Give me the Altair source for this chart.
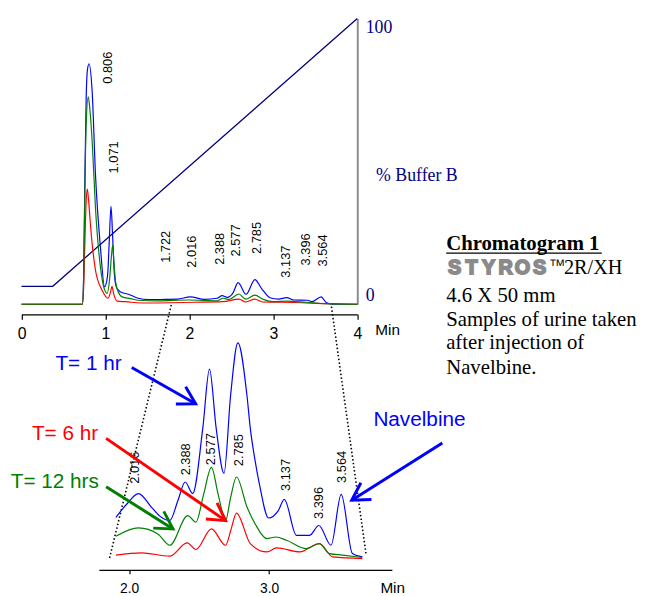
import math
import altair as alt
import pandas as pd

# ---------------- values ----------------
# Overview chromatogram: (time in min, response in % of panel height)
top_blue = [(0.0, 0.0), (0.725, 0.0), (0.74, 10.0), (0.755, 45.0), (0.77, 72.0), (0.785, 82.0),
            (0.804, 84.2), (0.842, 74.1), (0.881, 45.4), (0.94, 19.9), (0.99, 6.1), (1.025, 10.0),
            (1.045, 22.0), (1.066, 34.3), (1.085, 24.0), (1.106, 10.7), (1.13, 6.0), (1.176, 4.4),
            (1.275, 3.5), (1.39, 2.1), (1.51, 1.6), (1.71, 1.7), (1.86, 1.8), (2.01, 2.6), (2.18, 1.7),
            (2.33, 2.1), (2.39, 3.0), (2.45, 2.4), (2.52, 4.0), (2.58, 7.6), (2.675, 3.5), (2.78, 8.6),
            (2.86, 5.5), (2.96, 2.3), (3.06, 1.8), (3.16, 2.3), (3.24, 1.5), (3.41, 1.4), (3.46, 0.9),
            (3.57, 2.6), (3.63, 0.6), (3.71, 0.0), (4.0, 0.0)]
top_green = [(0.0, 0.0), (0.725, 0.0), (0.74, 9.0), (0.755, 40.0), (0.77, 63.0), (0.795, 72.6),
             (0.815, 68.0), (0.842, 56.8), (0.881, 33.7), (0.94, 13.0), (0.98, 6.0), (1.02, 3.8),
             (1.05, 9.0), (1.07, 16.5), (1.086, 20.8), (1.1, 15.0), (1.12, 8.0), (1.15, 4.5), (1.2, 2.6),
             (1.3, 2.0), (1.39, 1.4), (1.62, 1.2), (2.0, 1.5), (2.33, 1.2), (2.4, 2.1), (2.47, 1.7),
             (2.59, 3.6), (2.67, 1.8), (2.78, 3.2), (2.88, 1.7), (3.0, 0.9), (3.16, 1.1), (3.39, 0.7),
             (3.7, 0.1), (4.0, 0.0)]
top_red = [(0.0, 0.0), (0.725, 0.0), (0.74, 6.0), (0.755, 22.0), (0.77, 36.0), (0.784, 40.3),
           (0.80, 36.0), (0.824, 26.8), (0.881, 11.9), (0.96, 4.9), (1.03, 2.1), (1.06, 4.2),
           (1.078, 6.3), (1.095, 4.0), (1.14, 1.1), (1.24, 0.9), (1.43, 0.45), (2.05, 0.7), (2.4, 0.9),
           (2.59, 1.8), (2.67, 0.8), (2.78, 1.8), (2.87, 0.8), (3.1, 0.7), (3.7, 0.2), (4.0, 0.0)]
buffer_b = [(0.0, 6.3), (0.372, 6.3), (4.0, 100.0)]          # % Buffer B gradient

top_peak_names = ["0.806", "1.071", "1.722", "2.016", "2.388", "2.577", "2.785", "3.137", "3.396", "3.564"]
top_peak_t = [1.027, 1.098, 1.725, 2.031, 2.36, 2.556, 2.804, 3.157, 3.392, 3.588]
top_peak_v = [77.2, 45.8, 14.5, 12.8, 13.8, 16.7, 17.6, 9.3, 13.6, 13.2]

# Expanded view (1.9 - 3.7 min)
bot_blue = [(1.905, 22.2), (1.983, 27.8), (2.066, 32.2), (2.16, 26.4), (2.23, 22.2), (2.29, 20.8),
            (2.348, 29.2), (2.40, 37.1), (2.454, 32.2), (2.526, 59.7), (2.574, 84.7), (2.622, 59.7),
            (2.678, 40.7), (2.725, 73.6), (2.777, 95.8), (2.842, 73.6), (2.866, 59.7), (2.901, 45.8),
            (2.936, 34.7), (2.996, 21.9), (3.066, 25.0), (3.109, 29.8), (3.196, 14.6), (3.29, 14.6),
            (3.356, 18.75), (3.443, 10.4), (3.516, 31.9), (3.596, 6.9), (3.667, 5.5)]
bot_green = [(1.905, 14.2), (2.066, 17.75), (2.207, 15.1), (2.29, 10.4), (2.419, 22.9), (2.477, 20.1),
             (2.532, 31.9), (2.588, 43.3), (2.636, 31.9), (2.689, 20.8), (2.725, 30.5), (2.767, 39.2),
             (2.843, 26.4), (2.901, 19.4), (2.984, 13.2), (3.049, 13.9), (3.125, 12.5), (3.266, 9.0),
             (3.36, 11.1), (3.431, 6.9), (3.525, 6.25), (3.667, 5.25)]
bot_red = [(1.905, 6.25), (2.089, 7.2), (2.29, 5.8), (2.414, 11.4), (2.477, 8.6), (2.588, 17.3),
           (2.689, 10.4), (2.728, 17.0), (2.767, 24.0), (2.866, 11.1), (2.984, 7.6), (3.054, 9.3),
           (3.219, 7.6), (3.36, 11.1), (3.455, 5.5), (3.667, 4.8)]

bot_peak_names = ["2.016", "2.388", "2.577", "2.785", "3.137", "3.396", "3.564"]
bot_peak_t = [2.042, 2.403, 2.588, 2.784, 3.12, 3.36, 3.52]
bot_peak_v = [36.4, 39.9, 44.2, 43.75, 33.3, 21.5, 36.7]

sample_labels = ["T= 1 hr", "T= 6 hr", "T= 12 hrs"]
sample_colors = ["#0000ff", "#ff0000", "#008000"]
sample_t = [1.946, 1.778, 1.783]
sample_v = [86.8, 57.2, 37.2]

arrow_colors = ["#0000ff", "#ff0000", "#008000", "#0000ff"]
arrow_tail_t = [2.018, 1.835, 1.835, 4.239]
arrow_tail_v = [85.4, 55.5, 35.1, 53.5]
arrow_head_t = [2.475, 2.689, 2.313, 3.591]
arrow_head_v = [70.1, 20.8, 17.3, 29.4]

info_lines = ["4.6 X 50 mm", "Samples of urine taken", "after injection of", "Navelbine."]
styros_letters = list("STYROS")

# ---------------- layout / style ----------------
W, H = 641, 588
SANS, SERIF = "Liberation Sans", "Liberation Serif"
NAVY = "#000080"


def sc(domain, rng):
    return alt.Scale(domain=domain, range=rng, nice=False, zero=False)


TOP_X = sc([0, 4], [13.7, 353.7])
TOP_Y = sc([0, 100], [296.3, 7])
BOT_X = sc([1.783, 3.878], [92, 388.7])
BOT_Y = sc([0, 100], [565.3, 325.3])

AX_TOP_X = alt.Axis(orient="bottom", offset=306.5 - H, values=[0, 1, 2, 3, 4], format="d",
                    title=None, grid=False, domainColor="black", domainWidth=1.2,
                    tickColor="black", tickWidth=1.2, tickSize=5, labelFont=SANS,
                    labelFontSize=16, labelColor="black", labelPadding=6,
                    labelFlush=False, labelOverlap=False)
AX_TOP_Y = alt.Axis(orient="right", offset=353.7 - W, values=[0, 100], title=None, grid=False,
                    ticks=False, domainColor="#8c8c8c", domainWidth=2, labelFont=SERIF,
                    labelFontSize=18, labelColor=NAVY, labelPadding=8, labelFlush=True,
                    labelOverlap=False)
AX_BOT_X = alt.Axis(orient="bottom", offset=565.3 - H, values=[2.0, 3.0], format=".1f",
                    title=None, grid=False, domainColor="black", domainWidth=1.2,
                    tickColor="black", tickWidth=1.2, tickSize=4, labelFont=SANS,
                    labelFontSize=14, labelColor="black", labelPadding=8,
                    labelFlush=False, labelOverlap=False)


def tx(f="t"):
    return alt.X(f"{f}:Q", scale=TOP_X, axis=AX_TOP_X)


def ty(f="v"):
    return alt.Y(f"{f}:Q", scale=TOP_Y, axis=AX_TOP_Y)


def bx(f="t"):
    return alt.X(f"{f}:Q", scale=BOT_X, axis=AX_BOT_X)


def by(f="v"):
    return alt.Y(f"{f}:Q", scale=BOT_Y, axis=None)


def series(pairs, color):
    return pd.DataFrame({"t": [p[0] for p in pairs], "v": [p[1] for p in pairs], "c": color})


# ---------------- top (overview) group ----------------
top_lines = pd.concat([series(top_blue, "#0000ff"), series(top_red, "#ff0000"),
                       series(top_green, "#008000")])
top_lines["k"] = top_lines["c"].map({"#0000ff": 0, "#ff0000": 1, "#008000": 2})

dotted = pd.DataFrame({"t": [1.784, 3.686], "v": [-0.24, 0.45],
                       "t2": [1.044, 4.106], "v2": [-89.4, -87.8]})

l_dotted = alt.Chart(dotted).mark_rule(color="black", strokeWidth=1.6, strokeDash=[1.5, 2.3]).encode(
    x=tx(), y=ty(), x2="t2:Q", y2="v2:Q")

l_buffer = alt.Chart(series(buffer_b, NAVY)).mark_line(color=NAVY, strokeWidth=1.3).encode(
    x=tx(), y=ty())

l_top = alt.Chart(top_lines).mark_line(interpolate="monotone", strokeWidth=1.2).encode(
    x=tx(), y=ty(), color=alt.Color("c:N", scale=None), detail="k:N", order="t:Q")

l_top_lab = alt.Chart(pd.DataFrame({"t": top_peak_t, "v": top_peak_v, "s": top_peak_names})).mark_text(
    angle=270, align="left", baseline="middle", font=SANS, fontSize=13, color="black").encode(
    x=tx(), y=ty(), text="s:N")

l_min_top = alt.Chart(pd.DataFrame({"t": [4.215], "v": [-8.9], "s": ["Min"]})).mark_text(
    align="left", baseline="middle", font=SANS, fontSize=15.5, color="black").encode(
    x=tx(), y=ty(), text="s:N")

l_buf_title = alt.Chart(pd.DataFrame({"t": [4.224], "v": [43.1], "s": ["% Buffer B"]})).mark_text(
    align="left", baseline="alphabetic", font=SERIF, fontSize=18, color=NAVY).encode(
    x=tx(), y=ty(), text="s:N")

l_chrom = alt.Chart(pd.DataFrame({"t": [5.059], "v": [19.12], "s": ["Chromatogram 1"]})).mark_text(
    align="left", baseline="alphabetic", font=SERIF, fontSize=21, fontWeight="bold",
    color="black").encode(x=tx(), y=ty(), text="s:N")

l_underline = alt.Chart(pd.DataFrame({"t": [5.059], "t2": [6.913], "v": [17.9]})).mark_rule(
    color="black", strokeWidth=1.5).encode(x=tx(), x2="t2:Q", y=ty())

l_styros = alt.Chart(pd.DataFrame({"t": [5.160, 5.362, 5.564, 5.767, 5.969, 6.172],
                                   "v": [10.58] * 6, "s": styros_letters})).mark_text(
    align="center", baseline="alphabetic", font=SANS, fontSize=20, fontWeight="bold",
    color="#8a8a8a", stroke="#8a8a8a", strokeWidth=1.8).encode(x=tx(), y=ty(), text="s:N")

l_tm = alt.Chart(pd.DataFrame({"t": [6.28], "v": [11.6], "s": ["™"]})).mark_text(
    align="left", baseline="alphabetic", font=SANS, fontSize=17, color="#222222").encode(
    x=tx(), y=ty(), text="s:N")

l_model = alt.Chart(pd.DataFrame({"t": [6.462], "v": [10.58], "s": ["2R/XH"]})).mark_text(
    align="left", baseline="alphabetic", font=SERIF, fontSize=20.5, color="black").encode(
    x=tx(), y=ty(), text="s:N")

l_info = alt.Chart(pd.DataFrame({"t": [5.059] * 4, "v": [0.9, -7.53, -15.8, -24.4],
                                 "s": info_lines})).mark_text(
    align="left", baseline="alphabetic", font=SERIF, fontSize=21, color="black").encode(
    x=tx(), y=ty(), text="s:N")

top = alt.layer(l_dotted, l_buffer, l_top, l_top_lab, l_min_top, l_buf_title, l_chrom,
                l_underline, l_styros, l_tm, l_model, l_info)

# ---------------- bottom (expanded) group ----------------
bot_lines = pd.concat([series(bot_blue, "#0000ff"), series(bot_red, "#ff0000"),
                       series(bot_green, "#008000")])
bot_lines["k"] = bot_lines["c"].map({"#0000ff": 0, "#ff0000": 1, "#008000": 2})

BX = (388.7 - 92) / (3.878 - 1.783)
BY = (565.3 - 325.3) / 100
arrow_angles = [math.degrees(math.atan2(-(hv - tv) * BY, (ht - tt) * BX)) % 360
                for tt, tv, ht, hv in zip(arrow_tail_t, arrow_tail_v, arrow_head_t, arrow_head_v)]
arrows = pd.DataFrame({"t": arrow_tail_t, "v": arrow_tail_v, "t2": arrow_head_t,
                       "v2": arrow_head_v, "c": arrow_colors, "a": arrow_angles})

l_bot = alt.Chart(bot_lines).mark_line(interpolate="monotone", strokeWidth=1.2).encode(
    x=bx(), y=by(), color=alt.Color("c:N", scale=None), detail="k:N", order="t:Q")

l_bot_lab = alt.Chart(pd.DataFrame({"t": bot_peak_t, "v": bot_peak_v, "s": bot_peak_names})).mark_text(
    angle=270, align="left", baseline="middle", font=SANS, fontSize=13, color="black").encode(
    x=bx(), y=by(), text="s:N")

l_shaft = alt.Chart(arrows).mark_rule(strokeWidth=3, strokeCap="butt").encode(
    x=bx(), y=by(), x2="t2:Q", y2="v2:Q", color=alt.Color("c:N", scale=None))

l_head = alt.Chart(arrows).mark_point(
    shape="M-0.866,-0.5L0,0L-0.866,0.5", filled=False, size=1600, strokeWidth=3,
    opacity=1, strokeJoin="miter").encode(
    x=bx("t2"), y=by("v2"), color=alt.Color("c:N", scale=None), angle=alt.Angle("a:Q", scale=None))

l_samples = alt.Chart(pd.DataFrame({"t": sample_t, "v": sample_v, "s": sample_labels,
                                    "c": sample_colors})).mark_text(
    align="right", baseline="middle", font=SANS, fontSize=21).encode(
    x=bx(), y=by(), text="s:N", color=alt.Color("c:N", scale=None))

l_navel = alt.Chart(pd.DataFrame({"t": [3.746], "v": [63.2], "s": ["Navelbine"]})).mark_text(
    align="left", baseline="middle", font=SANS, fontSize=21, color="#0000ff").encode(
    x=bx(), y=by(), text="s:N")

l_min_bot = alt.Chart(pd.DataFrame({"t": [3.796], "v": [-7.67], "s": ["Min"]})).mark_text(
    align="left", baseline="middle", font=SANS, fontSize=15.5, color="black").encode(
    x=bx(), y=by(), text="s:N")

bot = alt.layer(l_bot, l_bot_lab, l_shaft, l_head, l_samples, l_navel, l_min_bot)

chart = alt.layer(top, bot).resolve_scale(
    x="independent", y="independent"
).properties(
    width=W, height=H, padding=0, autosize=alt.AutoSizeParams(type="none")
).configure_view(stroke=None).configure_axis(grid=False)

chart.save("out.html", embed_options={"renderer": "svg", "actions": False})
